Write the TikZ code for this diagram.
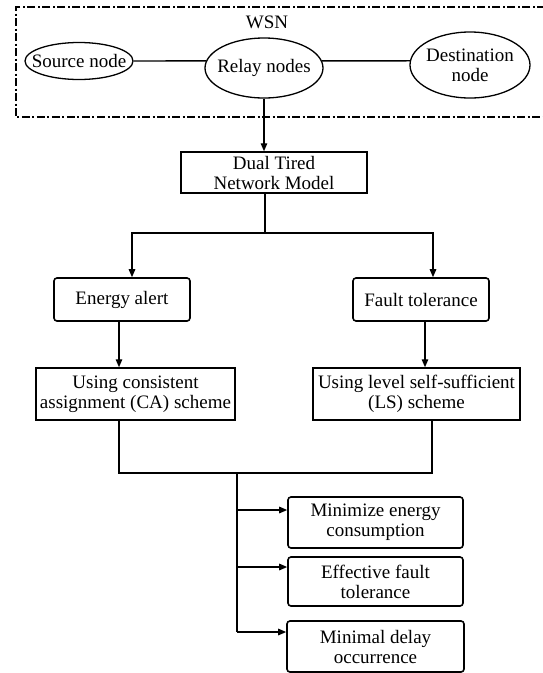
\documentclass[tikz,border=0pt]{standalone}
\usepackage{fontspec}
\setmainfont{Liberation Serif}
\usetikzlibrary{arrows.meta,shapes.geometric}
\begin{document}
\begin{tikzpicture}[x=1pt,y=1pt,
  every node/.style={font=\rmfamily\fontsize{19}{20}\selectfont, inner sep=0pt, align=center},
  oval/.style={draw, ellipse, line width=1.3pt, inner sep=0pt},
  sqbox/.style={draw, rectangle, line width=1.5pt},
  rbox/.style={draw, rectangle, rounded corners=3pt, line width=1.6pt},
  conn/.style={line width=1.4pt},
  arr/.style={conn, -{Triangle[length=8pt,width=6.5pt]}},
  frame/.style={line width=1.3pt, dash pattern=on 8pt off 2.5pt on 2pt off 2.5pt}
]
\useasboundingbox (0,0) rectangle (543,-673);
% WSN frame
\coordinate (f1) at (545,-7);
\coordinate (f2) at (16,-7);
\coordinate (f3) at (16,-117);
\coordinate (f4) at (545,-117);
\draw[frame] (f1) -- (f2) -- (f3) -- (f4);
\node (wsn) at (267,-22) {WSN};
\node[oval, minimum width=108pt, minimum height=37pt] (src) at (79,-61) {};
\node (srct) at (src) {Source node};
\node[oval, minimum width=118pt, minimum height=60pt] (relay) at (264,-68) {};
\node (relayt) at (relay) {Relay nodes};
\node[oval, minimum width=120pt, minimum height=66pt] (dst) at (470,-65) {};
\node (dstt) at (dst) {Destination\\node};
\draw[conn] (src.east) -- (relay.173);
\draw[conn] (relay.7) -- (dst.176);

\node[sqbox, minimum width=186pt, minimum height=41pt] (dual) at (274,-172.5) {Dual Tired\\Network Model};
\draw[arr] (relay.south) -- (relay.south |- dual.north);

\node[rbox, minimum width=136pt, minimum height=43pt] (energy) at (122,-299.5) {Energy alert};
\node[rbox, minimum width=136pt, minimum height=43pt] (fault) at (421,-299.5) {Fault tolerance};
\coordinate (bm) at (265,-233);
\coordinate (bl) at (132,-233);
\coordinate (br) at (433,-233);
\draw[conn] (dual.south -| bm) -- (bm);
\draw[arr] (bm) -- (bl) -- (bl |- energy.north);
\draw[arr] (bm) -- (br) -- (br |- fault.north);

\node[sqbox, minimum width=199pt, minimum height=52pt] (ca) at (135.5,-394) {Using consistent\\assignment (CA) scheme};
\node[sqbox, minimum width=207pt, minimum height=52pt] (ls) at (416.5,-394) {Using level self-sufficient\\(LS) scheme};
\coordinate (el) at (119,-321);
\coordinate (fl) at (425,-321);
\draw[arr] (energy.south -| el) -- (ca.north -| el);
\draw[arr] (fault.south -| fl) -- (ls.north -| fl);

\coordinate (jl) at (119,-473);
\coordinate (jr) at (432,-473);
\coordinate (jm) at (237,-473);
\draw[conn] (ca.south -| jl) -- (jl) -- (jr) -- (ls.south -| jr);

\node[rbox, minimum width=175pt, minimum height=51pt] (m1) at (375.5,-522.5) {Minimize energy\\consumption};
\node[rbox, minimum width=175pt, minimum height=49pt] (m2) at (375.5,-581.5) {Effective fault\\tolerance};
\node[rbox, minimum width=177pt, minimum height=51pt] (m3) at (375.5,-646.5) {Minimal delay\\occurrence};
\coordinate (t1) at (237,-510);
\coordinate (t2) at (237,-567);
\coordinate (t3) at (237,-632);
\draw[conn] (jm) -- (t3);
\draw[arr] (t1) -- (t1 -| m1.west);
\draw[arr] (t2) -- (t2 -| m2.west);
\draw[arr] (t3) -- (t3 -| m3.west);
\end{tikzpicture}
\end{document}
